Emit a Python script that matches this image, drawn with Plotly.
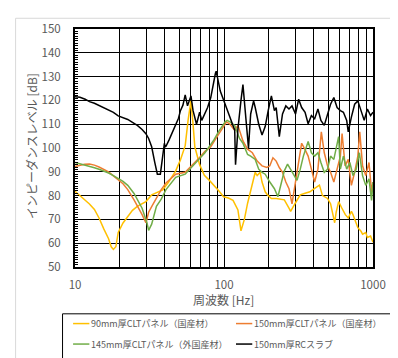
import plotly.graph_objects as go

# ---------------- data ----------------
series_names = ["90mm厚CLTパネル（国産材）", "150mm厚CLTパネル（国産材）",
                "145mm厚CLTパネル（外国産材）", "150mm厚RCスラブ"]
series_colors = ["#FFC000", "#ED7D31", "#70AD47", "#000000"]

f_yellow = [10, 10.8, 11.6, 12.5, 13.5, 14.5, 15.6, 16.8, 17.5, 18.1, 18.8, 19.5, 21, 22.6, 24.3, 26.2,
            28.2, 29.9, 32.7, 35.5, 38.8, 42.5, 47.4, 51, 54.9, 57.5, 60, 62, 63.7, 68.6, 73.8, 79.5,
            85.6, 92.2, 99.3, 107, 115, 124, 130, 137, 144, 155, 162, 167, 175, 180, 189, 196, 208,
            224, 242, 254, 273, 280, 302, 325, 350, 377, 406, 437, 458, 471, 495, 519, 539, 553, 566,
            588, 615, 652, 682, 716, 734, 770, 791, 831, 851, 894, 917, 963, 987, 1000]
v_yellow = [81.8, 80.0, 78.3, 76.5, 74.2, 70.6, 66.0, 61.9, 58.5, 57.4, 58.5, 64.5, 68.5, 71.3, 73.8, 75.5,
            76.5, 77.5, 80.3, 81.4, 82.4, 85.7, 90.4, 95.0, 101.0, 112.0, 119.8, 110.0, 100.5, 93.0, 88.5, 86.5,
            84.4, 82.0, 79.5, 79.0, 78.0, 74.0, 65.2, 70.0, 76.8, 85.5, 89.8, 88.4, 89.8, 85.7, 81.6, 80.3, 78.8,
            78.8, 78.5, 78.2, 74.7, 73.4, 77.0, 80.3, 81.0, 81.6, 83.0, 84.4, 80.0, 79.5, 78.8, 76.6, 72.0, 68.6, 73.0,
            77.5, 75.0, 72.0, 70.6, 73.4, 72.0, 68.0, 66.5, 65.0, 63.8, 64.5, 62.4, 63.0, 61.0, 60.4]

f_orange = [10, 10.8, 11.6, 12.5, 13.5, 14.5, 15.6, 16.8, 18.1, 19.5, 21, 22.6, 24.9, 28.2, 29.9, 30.5,
            31.2, 32.7, 35.2, 37.9, 40.8, 47.4, 54.9, 63.7, 68.6, 74.5, 81.5, 89.9, 97, 104, 109.6, 118,
            124, 134, 144, 155, 167, 180, 194, 203, 213, 224, 235, 247, 260, 273, 286, 302, 317, 332,
            350, 367, 386, 406, 427, 450, 471, 495, 519, 546, 574, 604, 620, 650, 682, 716, 753, 791,
            815, 851, 894, 940, 978, 1000]
v_orange = [92.2, 92.8, 93.2, 93.3, 92.8, 92.0, 91.1, 90.0, 88.3, 86.5, 85.0, 82.5, 78.2, 72.0, 68.6, 70.5,
            73.0, 75.4, 79.0, 82.5, 85.3, 89.0, 89.8, 93.8, 96.0, 98.6, 100.5, 104.8, 108.0, 111.0, 110.0, 107.5,
            109.5, 103.0, 99.5, 98.0, 94.5, 92.5, 91.8, 92.5, 95.9, 94.5, 91.8, 89.8, 85.7, 82.9, 76.5, 85.7, 92.5, 102.0,
            99.3, 96.6, 91.1, 85.7, 91.1, 106.8, 98.0, 92.5, 89.8, 85.7, 91.1, 96.6, 106.1, 92.5, 95.2, 84.3, 89.8, 96.6,
            106.8, 92.5, 88.4, 93.9, 81.6, 85.7]

f_green = [10, 10.8, 11.6, 12.5, 13.5, 14.5, 15.6, 16.8, 18.1, 19.5, 21, 22.6, 24.9, 28.2, 30.4, 31.2,
           32.7, 35.2, 37.9, 40.8, 47.4, 54.9, 63.7, 68.6, 74.5, 85.6, 92.2, 101.8, 105, 109.6, 118, 127,
           134, 144, 151, 162, 171, 180, 189, 203, 218, 230, 242, 254, 267, 280, 294, 309, 325, 341,
           367, 386, 406, 427, 447, 471, 495, 519, 546, 588, 604, 633, 666, 699, 734, 771, 810, 851,
           894, 940, 978, 1000]
v_green = [93.9, 93.4, 92.9, 92.3, 91.7, 91.1, 90.4, 89.5, 88.4, 87.2, 86.0, 84.3, 80.9, 74.7, 68.6, 65.4,
           68.0, 75.5, 78.5, 82.5, 87.7, 89.0, 93.2, 95.5, 98.0, 103.4, 107.0, 111.0, 111.6, 111.0, 109.5, 104.0,
           102.0, 97.3, 96.6, 95.2, 91.1, 89.8, 89.0, 85.7, 82.9, 79.5, 85.7, 90.4, 93.2, 91.1, 88.4, 86.4, 91.1, 96.6,
           102.7, 98.0, 96.6, 98.0, 93.9, 89.8, 91.1, 96.6, 95.2, 104.8, 91.1, 96.6, 91.1, 93.9, 88.4, 91.1, 98.0, 88.4,
           84.3, 87.0, 78.0, 85.7]

f_black = [10, 10.8, 11.7, 12.5, 13.5, 14.5, 15.6, 16.8, 18.1, 19.5, 21, 22.6, 24.3, 26.2, 28.2, 29.9,
           31.2, 32.7, 34.3, 35.2, 35.7, 37.4, 38.2, 38.9, 39.8, 40.3, 40.8, 42.8, 44, 47.4, 49.5, 51,
           53, 54.9, 56.9, 60, 62, 65.4, 68.6, 70.9, 74.5, 77.6, 81.5, 85.6, 87.6, 88.6, 89.9, 94.4,
           101.8, 109.6, 118, 119.5, 121, 124, 130, 134, 140.6, 146, 151, 158, 162, 171, 180, 189,
           198, 208, 218, 224, 235, 247, 260, 273, 286, 302, 317, 332, 350, 367, 386, 406, 427, 447,
           471, 495, 519, 546, 574, 604, 633, 666, 682, 716, 753, 791, 831, 873, 917, 963, 1000]
v_black = [121.5, 121.3, 120.5, 119.5, 118.8, 117.8, 117.0, 115.8, 115.0, 113.5, 112.8, 112.0, 110.8, 109.5, 107.8, 106.0,
           104.0, 100.5, 94.0, 90.0, 89.0, 89.0, 93.0, 97.0, 102.0, 100.5, 100.7, 103.4, 105.0, 110.0, 112.5, 115.7,
           118.0, 122.3, 117.7, 121.9, 115.7, 110.0, 115.0, 111.6, 114.3, 117.0, 121.2, 129.4, 131.4, 132.3, 130.0, 123.9,
           118.4, 113.0, 107.5, 93.0, 98.6, 108.0, 120.0, 126.6, 111.6, 100.0, 114.3, 119.8, 117.0, 110.0, 105.5, 109.0,
           115.7, 121.9, 115.7, 117.0, 104.8, 114.3, 117.7, 116.4, 117.7, 114.3, 120.5, 117.0, 115.0, 110.2, 113.6, 112.3, 116.4, 111.6,
           109.5, 113.6, 118.4, 121.2, 117.0, 115.7, 115.0, 111.6, 106.8, 113.0, 118.4, 119.8, 115.7, 111.6, 116.4, 113.6, 115.0]

x_tick_vals = [10, 20, 30, 40, 50, 60, 70, 80, 90, 100, 200, 300, 400, 500, 600, 700, 800, 900, 1000]
x_tick_text = ["10", "", "", "", "", "", "", "", "", "100", "", "", "", "", "", "", "", "", "1000"]
y_tick_vals = [50, 60, 70, 80, 90, 100, 110, 120, 130, 140, 150]

x_title = "周波数 [Hz]"
y_title = "インピーダンスレベル [dB]"

# ---------------- figure ----------------
FONT = "Noto Sans CJK JP, Noto Sans, sans-serif"
fig = go.Figure()
all_f = [f_yellow, f_orange, f_green, f_black]
all_v = [v_yellow, v_orange, v_green, v_black]
for name, col, fx, vy in zip(series_names, series_colors, all_f, all_v):
    fig.add_trace(go.Scatter(x=fx, y=vy, mode="lines", name=name,
                             line=dict(color=col, width=1.5), showlegend=False))

# page body has an 8px default margin; target positions are window pixels
OFF = 8
FW, FH = 398 - OFF, 358 - OFF
L, T, W, H = 75 - OFF, 23 - OFF, 311, 244


def px(xp):
    return (xp - OFF - L) / W


def py(yp):
    return (T + H - (yp - OFF)) / H


shapes = []
annotations = []
# outer chart area border
shapes.append(dict(type="rect", xref="paper", yref="paper", x0=px(13), x1=px(430), y0=py(12), y1=py(380),
                   line=dict(color="#D9D9D9", width=1), layer="below"))
# legend box
shapes.append(dict(type="rect", xref="paper", yref="paper", x0=px(62), x1=px(430), y0=py(315), y1=py(380),
                   line=dict(color="#000000", width=1)))
leg_pos = [(73, 325), (243, 325), (73, 346), (243, 346)]
for (lx, ly), name, col in zip(leg_pos, series_names, series_colors):
    shapes.append(dict(type="line", xref="paper", yref="paper", x0=px(lx), x1=px(lx + 17), y0=py(ly), y1=py(ly),
                       line=dict(color=col, width=1.5)))
    annotations.append(dict(xref="paper", yref="paper", x=px(lx + 17), y=py(ly), text=name, showarrow=False,
                            xanchor="left", yanchor="middle", font=dict(family=FONT, size=9, color="#595959")))

annotations.append(dict(xref="paper", yref="paper", x=px(230), y=py(300), text=x_title, showarrow=False,
                        xanchor="center", yanchor="middle", font=dict(family=FONT, size=12, color="#595959")))
annotations.append(dict(xref="paper", yref="paper", x=px(29), y=py(143), text=y_title, showarrow=False,
                        textangle=-90, xanchor="center", yanchor="middle",
                        font=dict(family=FONT, size=12, color="#595959")))

fig.update_layout(
    width=FW, height=FH,
    margin=dict(l=L, r=FW - L - W, t=T, b=FH - T - H),
    paper_bgcolor="white", plot_bgcolor="white",
    showlegend=False,
    shapes=shapes, annotations=annotations,
    font=dict(family=FONT, size=11.5, color="#595959"),
)
fig.update_xaxes(type="log", range=[1, 3], tickvals=x_tick_vals, ticktext=x_tick_text,
                 showgrid=True, gridcolor="#000000", gridwidth=1, ticks="",
                 showline=True, linecolor="#000000", linewidth=2, mirror=True,
                 ticklabelstandoff=6, tickfont=dict(family=FONT, size=11.5, color="#595959"),
                 zeroline=False)
fig.update_yaxes(range=[50, 150], tickvals=y_tick_vals,
                 showgrid=True, gridcolor="#000000", gridwidth=1,
                 ticks="inside", ticklen=4, tickcolor="#000000",
                 minor=dict(dtick=1, ticks="inside", ticklen=3, tickcolor="#000000", showgrid=False),
                 showline=True, linecolor="#000000", linewidth=2, mirror=True,
                 ticklabelstandoff=10, tickfont=dict(family=FONT, size=11.5, color="#595959"),
                 zeroline=False)

fig.write_html("out.html")
